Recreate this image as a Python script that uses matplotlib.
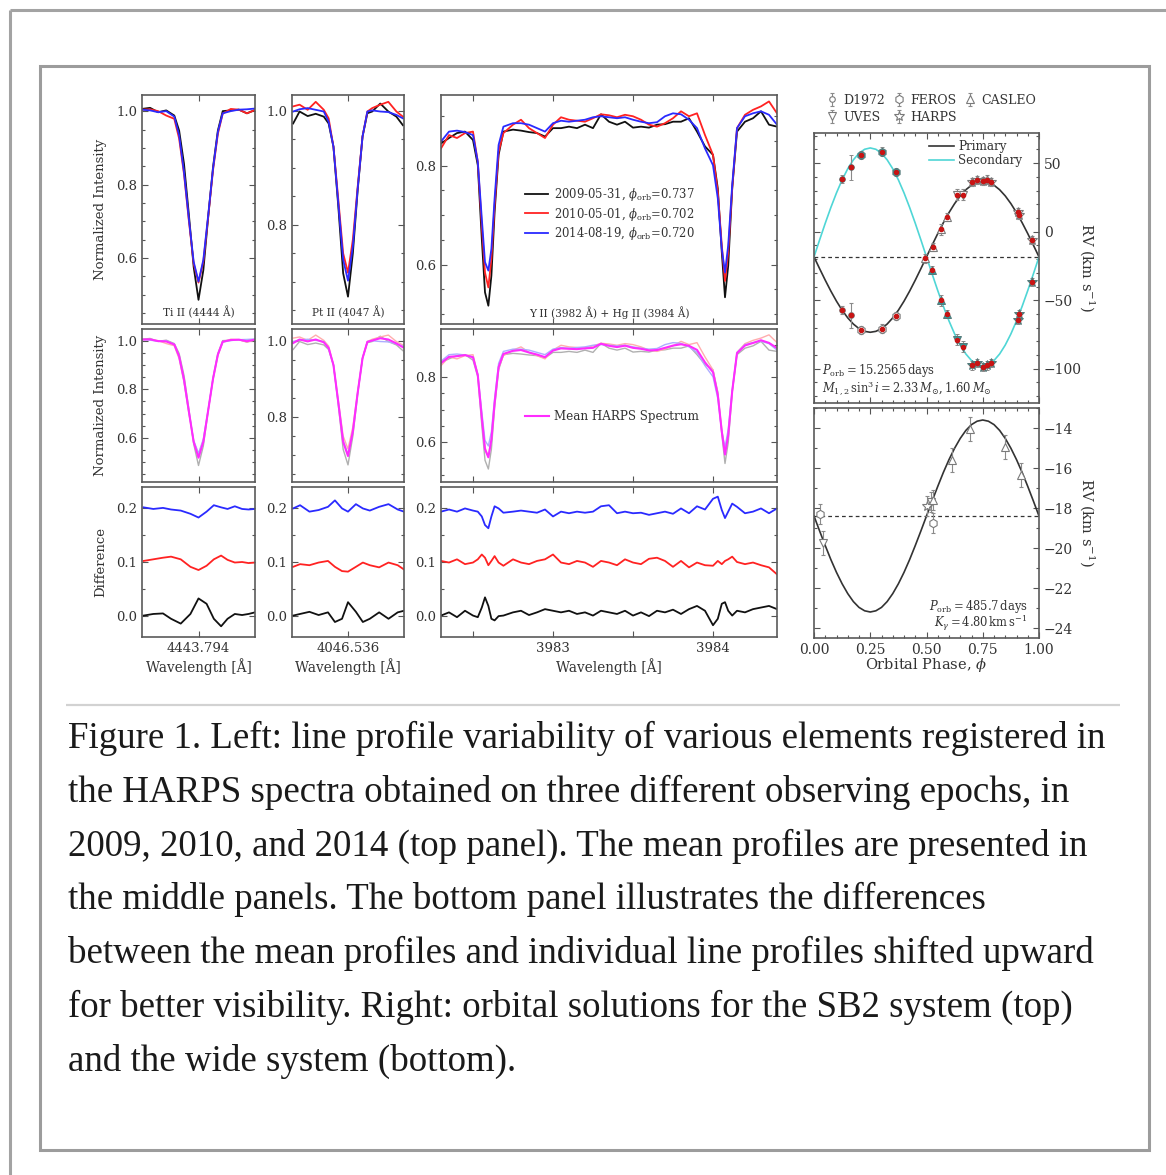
import numpy as np
import matplotlib
matplotlib.use('Agg')
import matplotlib.pyplot as plt
from matplotlib.ticker import MultipleLocator, FixedLocator
from matplotlib.lines import Line2D
from matplotlib.patches import Rectangle

# ---------------- data ----------------
epoch_labels = [r'2009-05-31, $\phi_{\rm orb}$=0.737',
                r'2010-05-01, $\phi_{\rm orb}$=0.702',
                r'2014-08-19, $\phi_{\rm orb}$=0.720']

ti_center = 4443.794
ti_wave = [4443.444, 4443.494, 4443.544, 4443.594, 4443.644, 4443.674, 4443.704, 4443.734, 4443.764, 4443.794,
           4443.824, 4443.854, 4443.884, 4443.914, 4443.944, 4443.994, 4444.044, 4444.094, 4444.144]
ti_2009 = [1.007, 1.010, 0.998, 1.003, 0.989, 0.948, 0.858, 0.720, 0.576, 0.486, 0.567, 0.712, 0.848, 0.948, 1.001, 1.003, 1.005, 0.995, 1.004]
ti_2010 = [1.005, 1.006, 1.001, 0.989, 0.980, 0.926, 0.830, 0.703, 0.585, 0.533, 0.590, 0.712, 0.840, 0.939, 0.994, 1.007, 1.005, 0.995, 1.004]
ti_2014 = [1.005, 1.003, 0.998, 1.001, 0.986, 0.935, 0.835, 0.708, 0.590, 0.536, 0.595, 0.717, 0.844, 0.944, 0.995, 1.001, 1.005, 1.006, 1.008]

pt_center = 4046.536
pt_wave = [4046.196, 4046.236, 4046.286, 4046.336, 4046.386, 4046.416, 4046.446, 4046.476, 4046.506, 4046.536,
           4046.566, 4046.596, 4046.626, 4046.656, 4046.686, 4046.736, 4046.786, 4046.836, 4046.876]
pt_2009 = [0.978, 0.999, 0.991, 0.995, 0.990, 0.978, 0.937, 0.832, 0.715, 0.674, 0.750, 0.861, 0.955, 0.996, 0.999, 1.013, 0.999, 0.990, 0.975]
pt_2010 = [1.008, 1.011, 1.002, 1.016, 1.002, 0.987, 0.937, 0.844, 0.750, 0.716, 0.774, 0.867, 0.955, 0.999, 1.005, 1.011, 1.016, 0.999, 0.990]
pt_2014 = [0.999, 1.003, 1.005, 1.002, 0.999, 0.981, 0.937, 0.838, 0.739, 0.702, 0.762, 0.864, 0.955, 0.999, 1.001, 0.999, 0.998, 0.993, 0.987]

y_wave = [3982.30, 3982.35, 3982.40, 3982.45, 3982.50, 3982.53, 3982.555, 3982.575, 3982.596, 3982.615,
          3982.635, 3982.66, 3982.69, 3982.75, 3982.80, 3982.85, 3982.90, 3982.95, 3983.00, 3983.05,
          3983.10, 3983.15, 3983.20, 3983.25, 3983.30, 3983.35, 3983.40, 3983.45, 3983.50, 3983.55,
          3983.60, 3983.65, 3983.70, 3983.75, 3983.80, 3983.85, 3983.90, 3983.95, 3984.00, 3984.03,
          3984.055, 3984.075, 3984.095, 3984.12, 3984.15, 3984.20, 3984.25, 3984.30, 3984.35, 3984.40]
y_2009 = [0.845, 0.856, 0.866, 0.869, 0.852, 0.801, 0.652, 0.544, 0.517, 0.578,
          0.706, 0.822, 0.869, 0.873, 0.871, 0.868, 0.866, 0.859, 0.876, 0.876,
          0.879, 0.876, 0.883, 0.876, 0.904, 0.889, 0.883, 0.889, 0.877, 0.879,
          0.877, 0.883, 0.884, 0.889, 0.889, 0.896, 0.869, 0.839, 0.822, 0.754,
          0.625, 0.534, 0.598, 0.754, 0.869, 0.889, 0.896, 0.910, 0.883, 0.879]
y_2010 = [0.835, 0.862, 0.856, 0.866, 0.869, 0.808, 0.679, 0.584, 0.554, 0.612,
          0.720, 0.828, 0.866, 0.883, 0.893, 0.876, 0.866, 0.856, 0.883, 0.898,
          0.893, 0.891, 0.889, 0.896, 0.904, 0.902, 0.898, 0.903, 0.900, 0.893,
          0.883, 0.879, 0.886, 0.896, 0.910, 0.900, 0.906, 0.862, 0.822, 0.747,
          0.639, 0.567, 0.625, 0.754, 0.876, 0.903, 0.913, 0.920, 0.930, 0.906]
y_2014 = [0.849, 0.869, 0.871, 0.868, 0.862, 0.808, 0.693, 0.605, 0.588, 0.632,
          0.734, 0.842, 0.879, 0.886, 0.886, 0.883, 0.876, 0.869, 0.886, 0.891,
          0.889, 0.891, 0.893, 0.898, 0.900, 0.898, 0.896, 0.898, 0.893, 0.889,
          0.886, 0.888, 0.900, 0.906, 0.904, 0.893, 0.876, 0.835, 0.801, 0.734,
          0.632, 0.584, 0.639, 0.761, 0.876, 0.900, 0.906, 0.910, 0.903, 0.883]

# differences (mean - individual), shifted by 0.0 / 0.1 / 0.2
tid_wave = [4443.454, 4443.514, 4443.574, 4443.624, 4443.684, 4443.744, 4443.794, 4443.844, 4443.889, 4443.934,
            4443.974, 4444.019, 4444.064, 4444.104, 4444.144]
tid_2009 = [0.000, 0.003, 0.004, -0.006, -0.015, 0.003, 0.032, 0.022, -0.006, -0.020, -0.006, 0.003, 0.001, 0.003, 0.006]
tid_2010 = [0.102, 0.105, 0.108, 0.110, 0.105, 0.091, 0.085, 0.093, 0.105, 0.112, 0.104, 0.099, 0.100, 0.098, 0.099]
tid_2014 = [0.202, 0.199, 0.201, 0.198, 0.196, 0.190, 0.183, 0.194, 0.206, 0.202, 0.199, 0.204, 0.199, 0.198, 0.199]

ptd_wave = [4046.196, 4046.239, 4046.297, 4046.354, 4046.412, 4046.455, 4046.499, 4046.536, 4046.585, 4046.628,
            4046.671, 4046.729, 4046.787, 4046.844, 4046.883]
ptd_2009 = [0.000, 0.003, 0.007, 0.001, 0.006, -0.012, -0.006, 0.025, 0.007, -0.012, -0.006, 0.006, -0.006, 0.006, 0.009]
ptd_2010 = [0.091, 0.096, 0.094, 0.099, 0.102, 0.091, 0.083, 0.082, 0.091, 0.099, 0.094, 0.090, 0.099, 0.094, 0.086]
ptd_2014 = [0.200, 0.206, 0.194, 0.197, 0.203, 0.215, 0.200, 0.194, 0.208, 0.200, 0.196, 0.203, 0.208, 0.198, 0.194]

yd_2009 = [0.000, 0.006, -0.003, 0.009, 0.000, -0.003, 0.015, 0.034, 0.018, -0.006,
           -0.009, -0.001, 0.000, 0.006, 0.009, 0.001, 0.006, 0.012, 0.009, 0.006,
           0.009, 0.003, 0.006, 0.000, 0.009, 0.006, 0.003, 0.009, 0.000, 0.006,
           -0.001, 0.009, 0.006, 0.011, 0.003, 0.012, 0.018, 0.009, -0.018, -0.006,
           0.022, 0.025, 0.009, 0.000, 0.009, 0.006, 0.012, 0.015, 0.018, 0.012]
yd_2010 = [0.102, 0.099, 0.105, 0.096, 0.099, 0.105, 0.114, 0.108, 0.094, 0.102,
           0.111, 0.099, 0.093, 0.105, 0.099, 0.096, 0.102, 0.105, 0.114, 0.099,
           0.096, 0.102, 0.099, 0.091, 0.102, 0.099, 0.094, 0.105, 0.099, 0.096,
           0.106, 0.108, 0.102, 0.091, 0.102, 0.090, 0.099, 0.094, 0.093, 0.102,
           0.096, 0.102, 0.105, 0.110, 0.100, 0.096, 0.099, 0.094, 0.090, 0.077]
yd_2014 = [0.194, 0.198, 0.194, 0.200, 0.196, 0.194, 0.185, 0.169, 0.163, 0.185,
           0.204, 0.200, 0.192, 0.194, 0.196, 0.194, 0.192, 0.198, 0.185, 0.194,
           0.191, 0.194, 0.192, 0.194, 0.204, 0.206, 0.191, 0.194, 0.191, 0.192,
           0.188, 0.191, 0.194, 0.190, 0.200, 0.191, 0.204, 0.198, 0.218, 0.222,
           0.197, 0.182, 0.194, 0.209, 0.203, 0.191, 0.194, 0.200, 0.191, 0.200]

# orbital solutions
gamma_rv = -18.4
model_phase = [0.0, 0.025, 0.05, 0.075, 0.1, 0.125, 0.15, 0.175, 0.2, 0.225, 0.25, 0.275, 0.3, 0.325, 0.35,
               0.375, 0.4, 0.425, 0.45, 0.475, 0.5, 0.525, 0.55, 0.575, 0.6, 0.625, 0.65, 0.675, 0.7, 0.725,
               0.75, 0.775, 0.8, 0.825, 0.85, 0.875, 0.9, 0.925, 0.95, 0.975, 1.0]
model_secondary = [-18.40, -5.96, 6.17, 17.69, 28.33, 37.82, 45.92, 52.44, 57.21, 60.12, 61.10, 60.12, 57.21, 52.44,
                   45.92, 37.82, 28.33, 17.69, 6.17, -5.96, -18.40, -30.84, -42.97, -54.49, -65.13, -74.62, -82.72,
                   -89.24, -94.01, -96.92, -97.90, -96.92, -94.01, -89.24, -82.72, -74.62, -65.13, -54.49, -42.97,
                   -30.84, -18.40]
model_primary = [-18.40, -27.00, -35.40, -43.37, -50.73, -57.29, -62.90, -67.41, -70.71, -72.72, -73.40, -72.72,
                 -70.71, -67.41, -62.90, -57.29, -50.73, -43.37, -35.40, -27.00, -18.40, -9.80, -1.40, 6.57, 13.93,
                 20.49, 26.10, 30.61, 33.91, 35.92, 36.60, 35.92, 33.91, 30.61, 26.10, 20.49, 13.93, 6.57, -1.40,
                 -9.80, -18.40]
model_wide = [-18.40, -19.15, -19.88, -20.58, -21.22, -21.79, -22.28, -22.68, -22.97, -23.14, -23.20, -23.14,
              -22.97, -22.68, -22.28, -21.79, -21.22, -20.58, -19.88, -19.15, -18.40, -17.65, -16.92, -16.22,
              -15.58, -15.01, -14.52, -14.12, -13.83, -13.66, -13.60, -13.66, -13.83, -14.12, -14.52, -15.01,
              -15.58, -16.22, -16.92, -17.65, -18.40]

rv_phase = [0.124, 0.164, 0.208, 0.302, 0.366, 0.495, 0.525, 0.53, 0.565, 0.589,
            0.637, 0.66, 0.704, 0.726, 0.749, 0.771, 0.786, 0.905, 0.912, 0.970]
rv_inst = ['D1972', 'D1972', 'FEROS', 'FEROS', 'FEROS', 'CASLEO', 'CASLEO', 'CASLEO', 'CASLEO', 'CASLEO',
           'UVES', 'UVES', 'HARPS', 'HARPS', 'HARPS', 'HARPS', 'HARPS', 'HARPS', 'HARPS', 'HARPS']
rv_primary = [-57.3, -61.0, -71.5, -70.7, -61.5, -19.5, np.nan, -11.0, 1.7, 10.5,
              26.8, 27.0, 36.5, 37.5, 37.2, 38.0, 36.0, 14.6, 12.0, -6.0]
rv_secondary = [38.3, 47.0, 56.0, 58.5, 43.4, np.nan, -28.0, np.nan, -50.0, -59.8,
                -79.0, -84.0, -97.6, -96.0, -98.8, -97.6, -96.0, -64.6, -59.8, -36.6]
rv_err = [3, 9, 3, 3, 3, 3, 3, 3, 4, 3, 4, 4, 3, 3, 3, 3, 3, 3, 3, 3]

wide_phase = [0.027, 0.042, 0.503, 0.518, 0.53, 0.53, 0.612, 0.692, 0.847, 0.92]
wide_rv = [-18.28, -19.75, -17.9, -17.7, -17.6, -18.73, -15.58, -14.03, -14.95, -16.37]
wide_err = [0.5, 0.6, 0.5, 0.5, 0.5, 0.5, 0.6, 0.6, 0.6, 0.6]
wide_inst = ['FEROS', 'UVES', 'HARPS', 'UVES', 'CASLEO', 'FEROS', 'CASLEO', 'CASLEO', 'CASLEO', 'CASLEO']

instruments = ['D1972', 'UVES', 'FEROS', 'HARPS', 'CASLEO']

caption_lines = [
    "Figure 1. Left: line profile variability of various elements registered in",
    "the HARPS spectra obtained on three different observing epochs, in",
    "2009, 2010, and 2014 (top panel). The mean profiles are presented in",
    "the middle panels. The bottom panel illustrates the differences",
    "between the mean profiles and individual line profiles shifted upward",
    "for better visibility. Right: orbital solutions for the SB2 system (top)",
    "and the wide system (bottom).",
]

# ---------------- figure ----------------
W, H = 1166, 1175
plt.rcParams['font.family'] = ['DejaVu Serif']
plt.rcParams['mathtext.fontset'] = 'dejavuserif'
fig = plt.figure(figsize=(W / 100, H / 100), dpi=100)
fig.patch.set_facecolor('white')


def add_ax(x0, y0, x1, y1):
    return fig.add_axes([x0 / W, 1 - y1 / H, (x1 - x0) / W, (y1 - y0) / H])


def fline(x0, y0, x1, y1, color, lw):
    fig.add_artist(Line2D([x0 / W, x1 / W], [1 - y0 / H, 1 - y1 / H], transform=fig.transFigure,
                          color=color, lw=lw, solid_capstyle='butt'))


# page frames
fline(10, 10, 10, 1175, '#a3a3a3', 2.2)
fline(10, 10, 1166, 10, '#a3a3a3', 2.2)
fig.add_artist(Rectangle((40 / W, 1 - 1150 / H), (1149 - 40) / W, (1150 - 66) / H, transform=fig.transFigure,
                         fill=False, edgecolor='#9c9c9c', lw=2.2))
fline(66, 705, 1120, 705, '#d2d2d2', 1.6)

SPINE = '#5a5a5a'
TXT = '#333333'


def style(ax, lsize=9.5):
    for s in ax.spines.values():
        s.set_color(SPINE)
        s.set_linewidth(1.2)
    ax.tick_params(which='both', direction='in', top=True, right=True, colors='#555555',
                   labelcolor=TXT, labelsize=lsize, width=0.8)
    ax.tick_params(which='major', length=4)
    ax.tick_params(which='minor', length=2.5)


BLACK, RED, BLUE, MAG = '#111111', '#ff2222', '#2a2aff', '#ff2cff'
FAINT = ['#b0b0b0', '#ffadad', '#adadff']

cols = [(142, 255), (292, 404), (441, 777)]
rows = [(95, 324), (329, 482), (487, 637)]

spec_sets = [
    (ti_wave, [ti_2009, ti_2010, ti_2014], (ti_center - 0.35, ti_center + 0.35), (0.42, 1.045), (0.418, 1.049),
     tid_wave, [tid_2009, tid_2010, tid_2014], 'Ti II (4444 Å)'),
    (pt_wave, [pt_2009, pt_2010, pt_2014], (pt_center - 0.347, pt_center + 0.347), (0.626, 1.028), (0.629, 1.032),
     ptd_wave, [ptd_2009, ptd_2010, ptd_2014], 'Pt II (4047 Å)'),
    (y_wave, [y_2009, y_2010, y_2014], (3982.30, 3984.40), (0.48, 0.943), (0.477, 0.948),
     y_wave, [yd_2009, yd_2010, yd_2014], 'Y II (3982 Å) + Hg II (3984 Å)'),
]

for ci, (wave, curves, xl, ylt, ylm, dwave, dcurves, label) in enumerate(spec_sets):
    x0, x1 = cols[ci]
    axt = add_ax(x0, rows[0][0], x1, rows[0][1])
    axm = add_ax(x0, rows[1][0], x1, rows[1][1])
    axd = add_ax(x0, rows[2][0], x1, rows[2][1])
    for ax in (axt, axm, axd):
        style(ax)
        ax.set_xlim(*xl)
        if ci < 2:
            center = ti_center if ci == 0 else pt_center
            ax.xaxis.set_major_locator(FixedLocator([center]))
            ax.xaxis.set_major_formatter(lambda v, p: f'{v:.3f}')
        else:
            ax.xaxis.set_major_locator(FixedLocator([3982.5, 3983, 3983.5, 3984]))
            ax.xaxis.set_major_formatter(lambda v, p: f'{v:.0f}' if abs(v - round(v)) < 1e-6 else '')
    # top: three epochs
    for c, col, lab in zip(curves, [BLACK, RED, BLUE], epoch_labels):
        axt.plot(wave, c, color=col, lw=1.3, label=lab)
    axt.set_ylim(*ylt)
    axt.yaxis.set_major_locator(MultipleLocator(0.2))
    axt.yaxis.set_minor_locator(MultipleLocator(0.05))
    axt.tick_params(labelbottom=False)
    axt.text(0.5, 0.052, label, transform=axt.transAxes, ha='center', va='center', fontsize=7.6, color=TXT)
    # middle: faint epochs + mean
    for c, col in zip(curves, FAINT):
        axm.plot(wave, c, color=col, lw=1.0)
    mean_curve = np.mean(np.array(curves), axis=0)
    axm.plot(wave, mean_curve, color=MAG, lw=1.5, label='Mean HARPS Spectrum')
    axm.set_ylim(*ylm)
    axm.yaxis.set_major_locator(MultipleLocator(0.2))
    axm.yaxis.set_minor_locator(MultipleLocator(0.05))
    axm.tick_params(labelbottom=False)
    # bottom: differences
    for c, col in zip(dcurves, [BLACK, RED, BLUE]):
        axd.plot(dwave, c, color=col, lw=1.3)
    axd.set_ylim(-0.04, 0.24)
    axd.yaxis.set_major_locator(MultipleLocator(0.1))
    axd.yaxis.set_minor_locator(MultipleLocator(0.05))
    axd.yaxis.set_major_formatter(lambda v, p: f'{v:.1f}')
    axd.set_xlabel('Wavelength [Å]', fontsize=9.8, color=TXT)
    axd.xaxis.set_label_coords(0.5, -0.14)
    if ci == 0:
        axt.set_ylabel('Normalized Intensity', fontsize=9.5, color=TXT)
        axm.set_ylabel('Normalized Intensity', fontsize=9.5, color=TXT)
        axd.set_ylabel('Difference', fontsize=9.5, color=TXT)
        axt.yaxis.set_label_coords(-0.31, 0.5)
        axm.yaxis.set_label_coords(-0.31, 0.5)
        axd.yaxis.set_label_coords(-0.31, 0.5)
    if ci == 2:
        axt.legend(loc='center left', bbox_to_anchor=(0.25, 0.48), frameon=False, fontsize=8.4,
                   handlelength=2.0, handletextpad=0.45, labelspacing=0.18, borderpad=0, borderaxespad=0,
                   labelcolor=TXT)
        axm.legend(loc='center left', bbox_to_anchor=(0.25, 0.43), frameon=False, fontsize=8.6,
                   handlelength=2.0, handletextpad=0.45, borderpad=0, borderaxespad=0, labelcolor=TXT)

# ---------------- RV panels ----------------
CYAN = '#4fd6d6'
TEAL = '#2f9f9f'
GRAYM = '#7a7a7a'
mk = {'D1972': ('o', 4.0), 'FEROS': ('h', 6.0), 'CASLEO': ('^', 5.5), 'UVES': ('v', 5.5), 'HARPS': ('*', 7.0)}

axr = add_ax(814, 133, 1039, 403)
style(axr, 10)
axr.plot(model_phase, model_primary, color='#333333', lw=1.2, label='Primary', zorder=2)
axr.plot(model_phase, model_secondary, color=CYAN, lw=1.2, label='Secondary', zorder=2)
axr.axhline(gamma_rv, color='#333333', lw=0.9, ls=(0, (3, 2.5)), zorder=1)
handles = {}
ph = np.array(rv_phase)
p1 = np.array(rv_primary)
p2 = np.array(rv_secondary)
er = np.array(rv_err)
ins = np.array(rv_inst)
for name in instruments:
    m, ms = mk[name]
    sel = (ins == name) & ~np.isnan(p1)
    handles[name] = axr.errorbar(ph[sel], p1[sel], yerr=er[sel], fmt=m, ms=ms, mfc='white', mec=GRAYM,
                                 mew=0.8, ecolor='#8a8a8a', elinewidth=0.8, capsize=1.5, zorder=3)
    sel2 = (ins == name) & ~np.isnan(p2)
    axr.errorbar(ph[sel2], p2[sel2], yerr=er[sel2], fmt=m, ms=ms, mfc=TEAL, mec='#557777',
                 mew=0.7, ecolor='#8a8a8a', elinewidth=0.8, capsize=1.5, zorder=3)
axr.plot(ph, p1, 'o', color='#c81414', ms=3.0, zorder=4)
axr.plot(ph, p2, 'o', color='#c81414', ms=3.0, zorder=4)
axr.set_xlim(0, 1)
axr.set_ylim(-125, 72)
axr.xaxis.set_major_locator(MultipleLocator(0.25))
axr.xaxis.set_minor_locator(MultipleLocator(0.05))
axr.yaxis.set_major_locator(MultipleLocator(50))
axr.yaxis.set_minor_locator(MultipleLocator(10))
axr.tick_params(labelbottom=False, labelleft=False, labelright=True)
axr.text(1.215, 0.5, r'RV (km s$^{-1}$)', transform=axr.transAxes, fontsize=10.5, color=TXT,
         rotation=270, ha='center', va='center')
leg1 = axr.legend(loc='upper right', bbox_to_anchor=(0.93, 0.978), frameon=False, fontsize=8.6,
                  handlelength=2.1, handletextpad=0.3, labelspacing=0.05, borderpad=0.1, borderaxespad=0,
                  labelcolor=TXT)
axr.add_artist(leg1)
axr.legend([handles[n] for n in instruments], instruments, ncol=3, loc='lower left',
           bbox_to_anchor=(0.05, 1.03), frameon=False, fontsize=9, handlelength=0.9, handletextpad=0.45,
           columnspacing=0.65, labelspacing=0.32, borderpad=0.1, borderaxespad=0, labelcolor=TXT)
axr.text(0.035, 0.122, r'$P_{\rm orb} = 15.2565\,$days', transform=axr.transAxes, fontsize=8.3,
         color=TXT, va='center', ha='left')
axr.text(0.035, 0.056, r'$M_{1,2}\,\sin^3 i = 2.33\,M_{\odot}, 1.60\,M_{\odot}$', transform=axr.transAxes,
         fontsize=8.3, color=TXT, va='center', ha='left')

axw = add_ax(814, 408, 1039, 638)
style(axw, 10)
axw.plot(model_phase, model_wide, color='#333333', lw=1.2, zorder=2)
axw.axhline(gamma_rv, color='#333333', lw=0.9, ls=(0, (3, 2.5)), zorder=1)
wph = np.array(wide_phase)
wrv = np.array(wide_rv)
wer = np.array(wide_err)
wins = np.array(wide_inst)
for name in instruments:
    m, ms = mk[name]
    sel = wins == name
    if sel.any():
        axw.errorbar(wph[sel], wrv[sel], yerr=wer[sel], fmt=m, ms=ms, mfc='white', mec=GRAYM, mew=0.8,
                     ecolor='#8a8a8a', elinewidth=0.8, capsize=1.5, zorder=3)
axw.set_xlim(0, 1)
axw.set_ylim(-24.5, -13.0)
axw.xaxis.set_major_locator(MultipleLocator(0.25))
axw.xaxis.set_minor_locator(MultipleLocator(0.05))
axw.xaxis.set_major_formatter(lambda v, p: f'{v:.2f}')
axw.yaxis.set_major_locator(MultipleLocator(2))
axw.yaxis.set_minor_locator(MultipleLocator(1))
axw.tick_params(labelleft=False, labelright=True)
axw.text(1.215, 0.5, r'RV (km s$^{-1}$)', transform=axw.transAxes, fontsize=10.5, color=TXT,
         rotation=270, ha='center', va='center')
axw.set_xlabel(r'Orbital Phase, $\phi$', fontsize=10.5, color=TXT)
axw.xaxis.set_label_coords(0.5, -0.077)
axw.text(0.95, 0.135, r'$P_{\rm orb} = 485.7\,$days', transform=axw.transAxes, fontsize=8.3,
         color=TXT, va='center', ha='right')
axw.text(0.95, 0.065, r'$K_{\gamma} = 4.80\,{\rm km\,s^{-1}}$', transform=axw.transAxes, fontsize=8.3,
         color=TXT, va='center', ha='right')

# ---------------- caption ----------------
cap = []
for i, line in enumerate(caption_lines):
    cap.append(fig.text(68 / W, 1 - (748 + i * 53.8) / H, line, fontsize=22.5, family='Liberation Serif',
                        color='#1a1a1a', ha='left', va='baseline'))
fig.canvas.draw()
rend = fig.canvas.get_renderer()
wfit = cap[0].get_window_extent(rend).width
for t in cap:
    t.set_fontsize(22.5 * 1040 / wfit)

fig.savefig('out.png', dpi=100)
